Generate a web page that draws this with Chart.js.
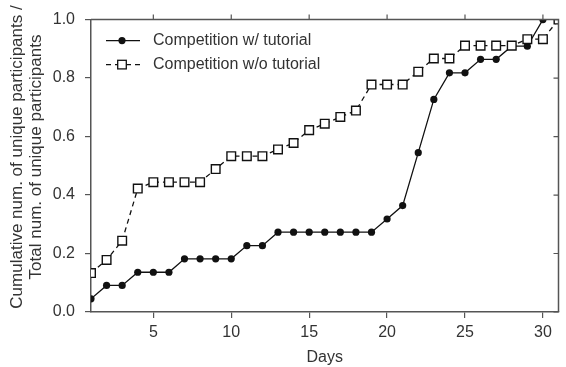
<!DOCTYPE html>
<html>
<head>
<meta charset="utf-8">
<script src="https://cdn.jsdelivr.net/npm/chart.js@4"></script>
<style>
  html, body { margin: 0; padding: 0; background: #fff; }
  #wrap { width: 566px; height: 367px; }
</style>
</head>
<body>
<div id="wrap"><canvas id="myChart" width="566" height="367"></canvas></div>
<script>
// values
var daysWith = [1, 2, 3, 4, 5, 6, 7, 8, 9, 10, 11, 12, 13, 14, 15, 16, 17, 18, 19, 20, 21, 22, 23, 24, 25, 26, 27, 28, 29, 30];
var withTutorial = [0.045, 0.091, 0.091, 0.136, 0.136, 0.136, 0.182, 0.182, 0.182, 0.182, 0.227, 0.227, 0.273, 0.273, 0.273,
    0.273, 0.273, 0.273, 0.273, 0.318, 0.364, 0.545, 0.727, 0.818, 0.818, 0.864, 0.864, 0.909, 0.909, 1.0];
var daysWithout = [1, 2, 3, 4, 5, 6, 7, 8, 9, 10, 11, 12, 13, 14, 15, 16, 17, 18, 19, 20, 21, 22, 23, 24, 25, 26, 27, 28, 29, 30, 31];
var withoutTutorial = [0.133, 0.178, 0.244, 0.422, 0.444, 0.444, 0.444, 0.444, 0.489, 0.533, 0.533, 0.533, 0.556, 0.578, 0.622,
    0.644, 0.667, 0.689, 0.778, 0.778, 0.778, 0.822, 0.867, 0.867, 0.911, 0.911, 0.911, 0.911, 0.933, 0.933, 1.0];
var xTicks = [5, 10, 15, 20, 25, 30];
var yTicks = [0, 0.2, 0.4, 0.6, 0.8, 1.0];
var seriesNames = ["Competition w/ tutorial", "Competition w/o tutorial"];
var yTitle = ["Cumulative num. of unique participants /", "Total num. of unique participants"];

var axisColor = '#555';
var textColor = '#333';
var fontFamily = "'Liberation Sans', Arial, sans-serif";

function toPoints(xs, ys) {
    var pts = [];
    for (var i = 0; i < xs.length; i++) {
        pts.push({ x: xs[i], y: ys[i] });
    }
    return pts;
}

// frame on top/right, top ticks outward, right ticks inward, y title and the legend
var framePlugin = {
    id: 'framePlugin',
    afterDraw: function (chart) {
        var ctx = chart.ctx;
        var a = chart.chartArea;
        var xs = chart.scales.x, ys = chart.scales.y;
        ctx.save();
        ctx.strokeStyle = axisColor;
        ctx.lineWidth = 1.5;
        ctx.beginPath();
        ctx.moveTo(a.left, a.top);
        ctx.lineTo(a.right, a.top);
        ctx.lineTo(a.right, a.bottom);
        ctx.stroke();
        ctx.lineWidth = 1.2;
        ctx.beginPath();
        xTicks.forEach(function (t) {
            var px = xs.getPixelForValue(t);
            ctx.moveTo(px, a.top);
            ctx.lineTo(px, a.top - 5);
        });
        yTicks.forEach(function (t) {
            var py = ys.getPixelForValue(t);
            ctx.moveTo(a.right, py);
            ctx.lineTo(a.right - 5, py);
        });
        ctx.stroke();

        // y axis title, two lines
        ctx.save();
        ctx.translate(0, 157);
        ctx.rotate(-Math.PI / 2);
        ctx.fillStyle = textColor;
        ctx.font = '17px ' + fontFamily;
        ctx.textAlign = 'center';
        ctx.textBaseline = 'alphabetic';
        ctx.fillText(yTitle[0], 0, 22);
        ctx.fillText(yTitle[1], 0, 41);
        ctx.restore();

        // legend
        var lx1 = a.left + 15, lx2 = a.left + 49, mx = a.left + 31;
        var rows = [a.top + 21, a.top + 45];
        ctx.strokeStyle = '#111';
        ctx.lineWidth = 1.3;
        ctx.beginPath();
        ctx.moveTo(lx1, rows[0]);
        ctx.lineTo(lx2, rows[0]);
        ctx.stroke();
        ctx.fillStyle = '#111';
        ctx.beginPath();
        ctx.arc(mx, rows[0], 3.6, 0, Math.PI * 2);
        ctx.fill();

        ctx.setLineDash([5, 4]);
        ctx.beginPath();
        ctx.moveTo(lx1, rows[1]);
        ctx.lineTo(mx - 4, rows[1]);
        ctx.moveTo(mx + 4, rows[1]);
        ctx.lineTo(lx2, rows[1]);
        ctx.stroke();
        ctx.setLineDash([]);
        ctx.fillStyle = '#fff';
        ctx.fillRect(mx - 4.3, rows[1] - 4.3, 8.6, 8.6);
        ctx.strokeRect(mx - 4.3, rows[1] - 4.3, 8.6, 8.6);

        ctx.fillStyle = textColor;
        ctx.font = '16px ' + fontFamily;
        ctx.textBaseline = 'middle';
        ctx.textAlign = 'left';
        ctx.fillText(seriesNames[0], a.left + 62, rows[0]);
        ctx.fillText(seriesNames[1], a.left + 62, rows[1]);
        ctx.restore();
    }
};

var ctx = document.getElementById('myChart').getContext('2d');
var myChart = new Chart(ctx, {
    type: 'line',
    data: {
        datasets: [{
            label: seriesNames[1],
            data: toPoints(daysWithout, withoutTutorial),
            borderColor: '#111',
            borderWidth: 1.3,
            borderDash: [5, 4],
            pointStyle: 'rect',
            pointRadius: 6.1,
            pointBorderWidth: 1.4,
            pointBackgroundColor: '#fff',
            pointBorderColor: '#111',
            tension: 0
        }, {
            label: seriesNames[0],
            data: toPoints(daysWith, withTutorial),
            borderColor: '#111',
            borderWidth: 1.3,
            pointStyle: 'circle',
            pointRadius: 3.6,
            pointBorderWidth: 0,
            pointBackgroundColor: '#111',
            tension: 0
        }]
    },
    options: {
        responsive: false,
        animation: false,
        layout: { padding: { top: 18, right: 3, left: 0, bottom: 0 } },
        plugins: {
            legend: { display: false },
            tooltip: { enabled: false }
        },
        scales: {
            x: {
                type: 'linear',
                min: 1,
                max: 31,
                afterBuildTicks: function (scale) {
                    scale.ticks = xTicks.map(function (v) { return { value: v }; });
                },
                afterFit: function (scale) { scale.height = 55; },
                grid: { display: true, drawOnChartArea: false, drawTicks: true, tickLength: 6, color: axisColor, lineWidth: 1.2 },
                border: { display: true, color: axisColor, width: 1.5 },
                ticks: {
                    color: textColor,
                    font: { size: 16, family: fontFamily },
                    padding: 5,
                    maxRotation: 0,
                    callback: function (v) { return String(v); }
                },
                title: {
                    display: true,
                    text: 'Days',
                    color: textColor,
                    font: { size: 16, family: fontFamily },
                    padding: { top: 0, bottom: 0 }
                }
            },
            y: {
                min: 0,
                max: 1,
                afterBuildTicks: function (scale) {
                    scale.ticks = yTicks.map(function (v) { return { value: v }; });
                },
                afterFit: function (scale) { scale.width = 91; },
                grid: { display: true, drawOnChartArea: false, drawTicks: true, tickLength: 6, color: axisColor, lineWidth: 1.2 },
                border: { display: true, color: axisColor, width: 1.5 },
                ticks: {
                    color: textColor,
                    font: { size: 16, family: fontFamily },
                    padding: 10,
                    callback: function (v) { return v.toFixed(1); }
                },
                title: { display: false }
            }
        }
    },
    plugins: [framePlugin]
});
</script>
</body>
</html>
